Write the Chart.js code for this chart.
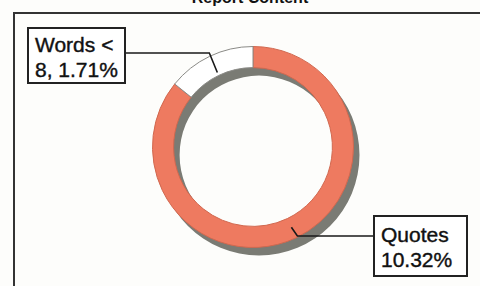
<!DOCTYPE html>
<html>
<head>
<meta charset="utf-8">
<script src="https://cdn.jsdelivr.net/npm/chart.js@4"></script>
<style>
  html, body { margin: 0; padding: 0; background: #fdfdfb; }
  #wrap { position: relative; width: 480px; height: 286px; overflow: hidden; font-family: "Liberation Sans", Arial, sans-serif; }
  #chart { position: absolute; left: 0; top: 0; }
  .title { position: absolute; left: 0; top: -10px; width: 500px; text-align: center; font-weight: bold; font-size: 16px; line-height: 16px; color: #111; }
  .frame { position: absolute; left: 13px; top: 12px; width: 600px; height: 400px; border-left: 2px solid #333; border-top: 2px solid #333; }
  .callout { position: absolute; background: #fff; border: 2px solid #222; color: #111; font-size: 21px; line-height: 25px; padding: 0 6px; box-sizing: border-box; -webkit-text-stroke: 0.4px #111; }
</style>
</head>
<body>
<div id="wrap">
  <div class="frame"></div>
  <div class="title">Report Content</div>
  <canvas id="chart" width="480" height="286"></canvas>
  <div class="callout" id="lblWords" style="left:27px; top:27px; width:99px; height:57px; padding-top:3px;"></div>
  <div class="callout" id="lblQuotes" style="left:373px; top:215px; width:95px; height:62px; padding-top:5px;"></div>
</div>
<script>
// slices, clockwise from 12 o'clock
const categories = ['Quotes', 'Words < 8'];
const values = [10.32, 1.71];
const calloutText = ['Quotes<br>10.32%', 'Words &lt;<br>8, 1.71%'];
const sliceColors = ['#EE7A60', '#ffffff'];
const sliceBorders = ['#d0684f', '#8a8a86'];

document.getElementById('lblQuotes').innerHTML = calloutText[0];
document.getElementById('lblWords').innerHTML = calloutText[1];

// gray ring under the doughnut, offset down-right like a drop shadow
const ringShadow = {
  id: 'ringShadow',
  beforeDatasetsDraw(chart) {
    const arc = chart.getDatasetMeta(0).data[0];
    if (!arc) return;
    const ctx = chart.ctx;
    ctx.save();
    ctx.fillStyle = '#7a7b74';
    ctx.beginPath();
    ctx.arc(arc.x + 6, arc.y + 8, arc.outerRadius, 0, Math.PI * 2);
    ctx.arc(arc.x + 6, arc.y + 8, arc.innerRadius, 0, Math.PI * 2, true);
    ctx.fill();
    ctx.restore();
  }
};

// leader lines from callout boxes to the slices
const leaders = {
  id: 'leaders',
  afterDatasetsDraw(chart) {
    const arcs = chart.getDatasetMeta(0).data;
    const ctx = chart.ctx;
    const anchors = [
      { box: [373, 236], elbowDx: 6, rf: 0.45 },   // Quotes
      { box: [126, 53], elbowDx: -8, rf: 0.15 }    // Words < 8
    ];
    ctx.save();
    ctx.strokeStyle = '#1a1a1a';
    ctx.lineWidth = 1.6;
    arcs.forEach((arc, i) => {
      const mid = (arc.startAngle + arc.endAngle) / 2;
      const r = arc.innerRadius + (arc.outerRadius - arc.innerRadius) * anchors[i].rf;
      const px = arc.x + r * Math.cos(mid);
      const py = arc.y + r * Math.sin(mid);
      const a = anchors[i];
      ctx.beginPath();
      ctx.moveTo(a.box[0], a.box[1]);
      ctx.lineTo(px + a.elbowDx, a.box[1]);
      ctx.lineTo(px, py);
      ctx.stroke();
    });
    ctx.restore();
  }
};

new Chart(document.getElementById('chart').getContext('2d'), {
  type: 'doughnut',
  data: {
    labels: categories,
    datasets: [{
      data: values,
      backgroundColor: sliceColors,
      borderColor: sliceBorders,
      borderWidth: 1,
      cutout: '79%'
    }]
  },
  options: {
    responsive: false,
    animation: false,
    rotation: 0,
    layout: { padding: { top: 46, bottom: 38, left: 151, right: 125 } },
    plugins: {
      legend: { display: false },
      tooltip: { enabled: false }
    }
  },
  plugins: [ringShadow, leaders]
});
</script>
</body>
</html>
